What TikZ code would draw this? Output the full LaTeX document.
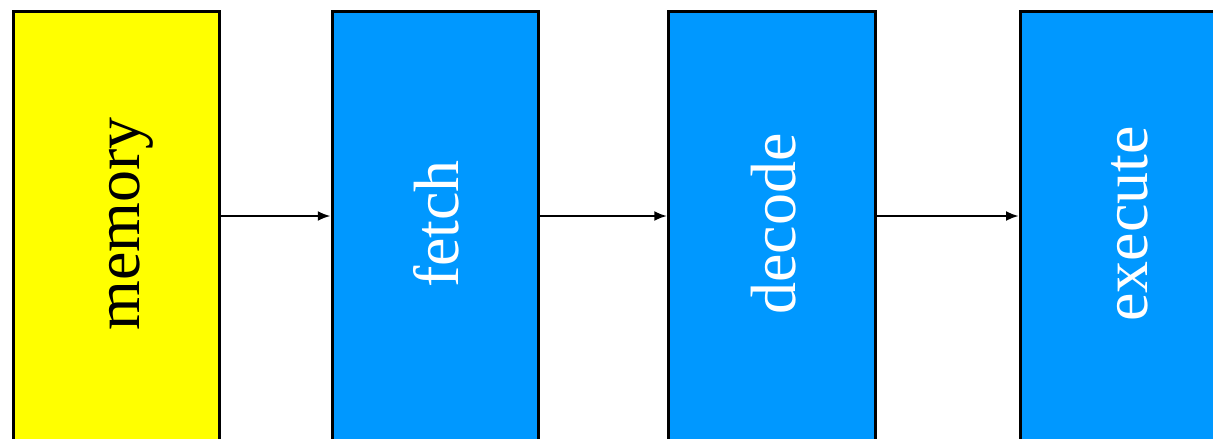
\documentclass[tikz,border=0pt]{standalone}
\usepackage{fontspec}
\newfontfamily\stagefont{Liberation Serif}
\usetikzlibrary{arrows.meta}
\definecolor{memyellow}{HTML}{FFFF00}
\definecolor{stageblue}{HTML}{0098FF}
\begin{document}
\begin{tikzpicture}[x=1pt,y=-1pt,
  stagebox/.style={draw=black,line width=3pt,rectangle,inner sep=0pt,
    minimum width=206.5pt,minimum height=480pt,anchor=north},
  stagelabel/.style={rotate=90,anchor=base,inner sep=0pt,
    font=\stagefont\fontsize{64}{70}\selectfont},
  flow/.style={-{Latex[length=13pt,width=10pt]},line width=2.6pt}]
\useasboundingbox (0,0) rectangle (1213,439);
\begin{scope}
\clip (0,0) rectangle (1213,439);
% the four pipeline blocks, running off the bottom edge
\node[stagebox,fill=memyellow] (mem) at (116.25,9.5) {};
\node[stagebox,fill=stageblue] (fetch) at (435.5,9.5) {};
\node[stagebox,fill=stageblue] (decode) at (772,9.5) {};
\node[stagebox,fill=stageblue] (exec) at (1123.75,9.5) {};
% vertical labels
\node[stagelabel,text=black] (memtxt) at (139,224) {memory};
\node[stagelabel,text=white] (fetchtxt) at (458.5,224) {fetch};
\node[stagelabel,text=white] (decodetxt) at (795,224) {decode};
\node[stagelabel,text=white] (exectxt) at (1147,224) {execute};
% data flow between blocks
\draw[flow] (mem.east |- 0,216) -- (fetch.west |- 0,216);
\draw[flow] (fetch.east |- 0,216) -- (decode.west |- 0,216);
\draw[flow] (decode.east |- 0,216) -- (exec.west |- 0,216);
\end{scope}
\end{tikzpicture}
\end{document}
